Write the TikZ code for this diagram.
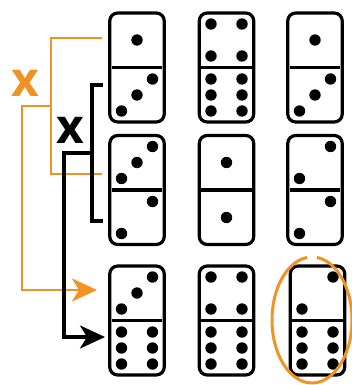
\documentclass[tikz,border=0pt]{standalone}
\usepackage{fontspec}
\setsansfont{Open Sans}
\usetikzlibrary{arrows.meta}
\definecolor{markorange}{RGB}{242,146,36}

\tikzset{
    pip/.style={radius=5.7pt},
    pipsone/.pic={\fill[pip] (0,0) circle;},
    pipstwo/.pic={\fill[pip] (15.5,-16) circle; \fill[pip] (-15.5,16) circle;},
    pipsthree/.pic={\fill[pip] (15.5,-16) circle; \fill[pip] (0,0) circle; \fill[pip] (-15.5,16) circle;},
    pipsfour/.pic={\foreach \px in {-15.5,15.5} \foreach \py in {-16,16} \fill[pip] (\px,\py) circle;},
    pipssix/.pic={\foreach \px in {-15.5,15.5} \foreach \py in {-16,0,16} \fill[pip] (\px,\py) circle;}
}

\begin{document}
\begin{tikzpicture}[x=1pt,y=-1pt]
    \tikzstyle{domino} = [rectangle, draw, line width=3.2pt, rounded corners=8pt, minimum width=54.5pt, minimum height=109pt, inner sep=0pt]
    \tikzstyle{divider} = [line width=3.2pt]
    \tikzstyle{crossmark} = [font=\sffamily\bfseries\fontsize{48}{48}\selectfont, inner sep=0pt]
    \tikzstyle{orangeline} = [markorange, line width=2.8pt]
    \tikzstyle{blackline} = [line width=3.2pt]
    \tikzstyle{arrow} = [-{Stealth[length=25pt,width=23pt,inset=7pt]}]

    \useasboundingbox (0,0) rectangle (351,385);

    % Row 1
    \node [domino] (d11) at (137,67.5) {};
    \node [domino] (d12) at (226.5,67.5) {};
    \node [domino] (d13) at (315,67.5) {};

    % Row 2
    \node [domino] (d21) at (137,190) {};
    \node [domino] (d22) at (226.5,190) {};
    \node [domino] (d23) at (315,190) {};

    % Row 3
    \node [domino] (d31) at (137,320.5) {};
    \node [domino] (d32) at (226.5,320.5) {};
    \node [domino] (d33) at (317.5,320.5) {};

    % Dividers
    \foreach \d in {d11,d12,d13,d21,d22,d23,d31,d32,d33}
        \draw [divider] ([xshift=3.5pt]\d.west) -- ([xshift=-3.5pt]\d.east);

    % Pips
    \pic at ([yshift=27.5pt]d11.center) {pipsone};
    \pic at ([yshift=-27.5pt]d11.center) {pipsthree};
    \pic at ([yshift=27.5pt]d12.center) {pipsfour};
    \pic at ([yshift=-27.5pt]d12.center) {pipssix};
    \pic at ([yshift=27.5pt]d13.center) {pipsone};
    \pic at ([yshift=-27.5pt]d13.center) {pipsthree};

    \pic at ([yshift=27.5pt]d21.center) {pipsthree};
    \pic at ([yshift=-27.5pt]d21.center) {pipstwo};
    \pic at ([yshift=27.5pt]d22.center) {pipsone};
    \pic at ([yshift=-27.5pt]d22.center) {pipsone};
    \pic at ([yshift=27.5pt]d23.center) {pipstwo};
    \pic at ([yshift=-27.5pt]d23.center) {pipstwo};

    \pic at ([yshift=27.5pt]d31.center) {pipsthree};
    \pic at ([yshift=-27.5pt]d31.center) {pipssix};
    \pic at ([yshift=27.5pt]d32.center) {pipsfour};
    \pic at ([yshift=-27.5pt]d32.center) {pipssix};
    \pic at ([yshift=27.5pt]d33.center) {pipstwo};
    \pic at ([yshift=-27.5pt]d33.center) {pipssix};

    % Orange bracket
    \coordinate (otop) at (102,38);
    \coordinate (obot) at (102,174);
    \coordinate (omid) at (51,106);
    \coordinate (oend) at (97,290);
    \draw [orangeline] (otop) -- (51,38) -- (51,174) -- (obot);
    \draw [orangeline, arrow] (omid) -- (22,106) -- (22,290) -- (oend);
    \node [crossmark, text=markorange] (xorange) at (25.5,83) {x};

    % Black bracket
    \coordinate (btop) at (103,85);
    \coordinate (bbot) at (103,221);
    \coordinate (bmid) at (92,153);
    \coordinate (bend) at (105,337);
    \draw [blackline] (btop) -- (92,85) -- (92,221) -- (bbot);
    \draw [blackline, arrow] (bmid) -- (64,153) -- (64,337) -- (bend);
    \node [crossmark] (xblack) at (70,130.5) {x};

    % Circled domino
    \draw [markorange, line width=3pt] (312,320) ++(277:40 and 63) arc [start angle=277, end angle=623, x radius=40, y radius=63];

\end{tikzpicture}
\end{document}
